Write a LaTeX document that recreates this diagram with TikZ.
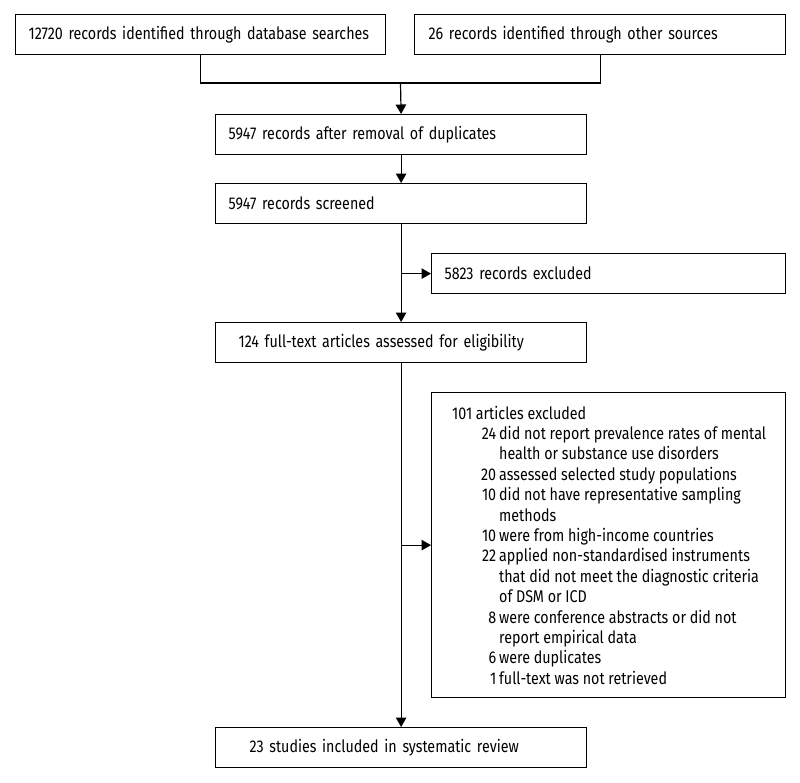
\documentclass[tikz,border=0pt]{standalone}
\usepackage{fontspec}
\setmainfont{Fira Sans}[FakeStretch=0.84]
\usetikzlibrary{arrows.meta}
\newcommand\exnum[1]{\makebox[44pt][r]{#1}\hspace{3pt}}
\newcommand\excont{\hspace*{47pt}}
\begin{document}
\begin{tikzpicture}[x=1pt,y=-1pt,
  txt/.style={align=left,font=\fontsize{17}{20.4}\selectfont},
  box/.style={txt,draw,line width=1.2pt,anchor=north west,inner ysep=0pt},
  arr/.style={line width=1.2pt,-{Triangle[length=9.5pt,width=10.5pt]}},
  ln/.style={line width=1.2pt}]
\useasboundingbox (0,0) rectangle (800,782);
\node[box,minimum width=370pt,minimum height=40pt,inner xsep=13pt,text width=344pt] (b1) at (15,14) {12720 records identified through database searches};
\node[box,minimum width=371pt,minimum height=40pt,inner xsep=14pt,text width=343pt] (b2) at (414,14) {26 records identified through other sources};
\node[box,minimum width=371pt,minimum height=40pt,inner xsep=13pt,text width=345pt] (b3) at (215,114) {5947 records after removal of duplicates};
\node[box,minimum width=371pt,minimum height=40pt,inner xsep=13pt,text width=345pt] (b4) at (215,183) {5947 records screened};
\node[box,minimum width=354pt,minimum height=40pt,inner xsep=13pt,text width=328pt] (ex1) at (431,253) {5823 records excluded};
\node[box,minimum width=371pt,minimum height=40pt,inner xsep=23pt,text width=325pt] (b5) at (215,322) {124 full-text articles assessed for eligibility};
\node[box,minimum width=354pt,minimum height=305pt] (ex2) at (431,392) {};
\node[txt,anchor=west,inner xsep=0pt] (ex2t) at ([xshift=21pt]ex2.west) {101 articles excluded\\
\exnum{24}did not report prevalence rates of mental\\
\excont health or substance use disorders\\
\exnum{20}assessed selected study populations\\
\exnum{10}did not have representative sampling\\
\excont methods\\
\exnum{10}were from high-income countries\\
\exnum{22}applied non-standardised instruments\\
\excont that did not meet the diagnostic criteria\\
\excont of DSM or ICD\\
\exnum{8}were conference abstracts or did not\\
\excont report empirical data\\
\exnum{6}were duplicates\\
\exnum{1}full-text was not retrieved};
\node[box,minimum width=371pt,minimum height=40pt,inner xsep=34pt,text width=303pt] (b6) at (215,727) {23 studies included in systematic review};
\coordinate (j) at (400.5,83);
\draw[ln] (b1.south) -- (b1.south|-j) -- (b2.south|-j) -- (b2.south);
\draw[arr] (j) -- (b3.north);
\draw[arr] (b3.south) -- (b4.north);
\draw[arr] (b4.south) -- (b5.north);
\draw[arr] (b4.south|-ex1.west) -- (ex1.west);
\draw[arr] (b5.south) -- (b6.north);
\draw[arr] (b5.south|-ex2.west) -- (ex2.west);
\end{tikzpicture}
\end{document}
